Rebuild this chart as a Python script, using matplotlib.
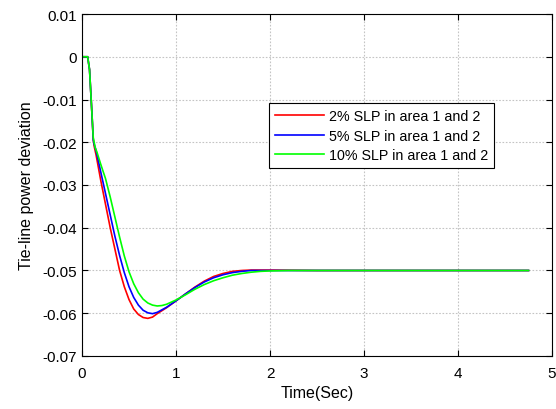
import matplotlib
matplotlib.use('Agg')
from matplotlib import pyplot as plt

plt.rcParams['font.family'] = ['Liberation Sans', 'DejaVu Sans']

# Tie-line power deviation for different step load perturbations
t_2 = [0, 0.06, 0.08, 0.10, 0.12, 0.13, 0.15, 0.20, 0.25, 0.30, 0.35, 0.40,
       0.45, 0.50, 0.55, 0.60, 0.65, 0.70, 0.75, 0.80, 0.90, 1.00, 1.10,
       1.20, 1.30, 1.40, 1.50, 1.60, 1.70, 1.80, 2.00, 2.50, 4.75]
dev_2 = [0, 0, -0.003, -0.011, -0.0195, -0.021, -0.023, -0.029, -0.0345,
         -0.040, -0.045, -0.050, -0.0538, -0.0568, -0.0590, -0.0603, -0.0610,
         -0.0612, -0.0609, -0.0601, -0.0587, -0.0571, -0.0555, -0.0539,
         -0.0525, -0.0514, -0.0507, -0.0502, -0.0500, -0.0499, -0.0499,
         -0.0500, -0.0500]

t_5 = [0, 0.06, 0.08, 0.10, 0.12, 0.13, 0.15, 0.20, 0.25, 0.30, 0.35, 0.40,
       0.45, 0.50, 0.55, 0.60, 0.65, 0.70, 0.75, 0.80, 0.90, 1.00, 1.10,
       1.20, 1.30, 1.40, 1.50, 1.60, 1.70, 1.80, 2.00, 4.75]
dev_5 = [0, 0, -0.003, -0.011, -0.0195, -0.0205, -0.022, -0.027, -0.032,
         -0.037, -0.042, -0.0465, -0.0505, -0.0538, -0.0563, -0.0581,
         -0.0593, -0.0599, -0.0601, -0.0598, -0.0586, -0.0571, -0.0555,
         -0.0540, -0.0527, -0.0517, -0.0510, -0.0505, -0.0502, -0.0500,
         -0.0500, -0.0500]

t_10 = [0, 0.06, 0.08, 0.10, 0.12, 0.14, 0.16, 0.20, 0.25, 0.30, 0.35, 0.40,
        0.45, 0.50, 0.55, 0.60, 0.65, 0.70, 0.75, 0.80, 0.85, 0.90, 1.00,
        1.10, 1.20, 1.30, 1.40, 1.50, 1.60, 1.70, 1.80, 1.90, 2.00, 2.20,
        4.75]
dev_10 = [0, 0, -0.003, -0.011, -0.019, -0.0212, -0.0224, -0.0252, -0.0285,
          -0.0328, -0.0375, -0.0422, -0.0466, -0.0503, -0.0531, -0.0552,
          -0.0567, -0.0576, -0.0581, -0.0583, -0.0582, -0.0579, -0.0569,
          -0.0557, -0.0544, -0.0533, -0.0524, -0.0517, -0.0511, -0.0507,
          -0.0504, -0.0502, -0.0501, -0.0500, -0.0500]

labels = ['2% SLP in area 1 and 2', '5% SLP in area 1 and 2',
          '10% SLP in area 1 and 2']

fig = plt.figure(figsize=(5.56, 4.10), dpi=100)
ax = fig.add_axes([0.1475, 0.1293, 0.8453, 0.8341])

ax.plot(t_2, dev_2, c='red', lw=1.2, label=labels[0])
ax.plot(t_5, dev_5, c='blue', lw=1.2, label=labels[1])
ax.plot(t_10, dev_10, c=(0, 1, 0), lw=1.2, label=labels[2])

# Format plot
ax.set_xlim(0, 5)
ax.set_ylim(-0.07, 0.01)
ax.set_xticks([0, 1, 2, 3, 4, 5])
ax.set_yticks([-0.07, -0.06, -0.05, -0.04, -0.03, -0.02, -0.01, 0, 0.01])
ax.set_xticklabels(['0', '1', '2', '3', '4', '5'])
ax.set_yticklabels(['-0.07', '-0.06', '-0.05', '-0.04', '-0.03', '-0.02',
                    '-0.01', '0', '0.01'])
ax.grid(True, ls=(0, (1.5, 1.5)), color='#c4c4c4', lw=0.8)
ax.tick_params(direction='in', top=True, right=True, length=4,
               labelsize=11, width=0.8)
ax.tick_params(axis='x', pad=7)
for side in ax.spines.values():
    side.set_linewidth(0.8)

ax.set_xlabel('Time(Sec)', fontsize=11.5, labelpad=4)
ax.set_ylabel('Tie-line power deviation', fontsize=11.5, labelpad=6)

leg = ax.legend(loc='upper left', bbox_to_anchor=(0.3985, 0.739),
                borderaxespad=0, fontsize=10.3, handlelength=3.4,
                fancybox=False, framealpha=1, edgecolor='black',
                borderpad=0.4, labelspacing=0.4, handletextpad=0.4)
leg.get_frame().set_linewidth(0.8)

fig.savefig('out.png', dpi=100)
